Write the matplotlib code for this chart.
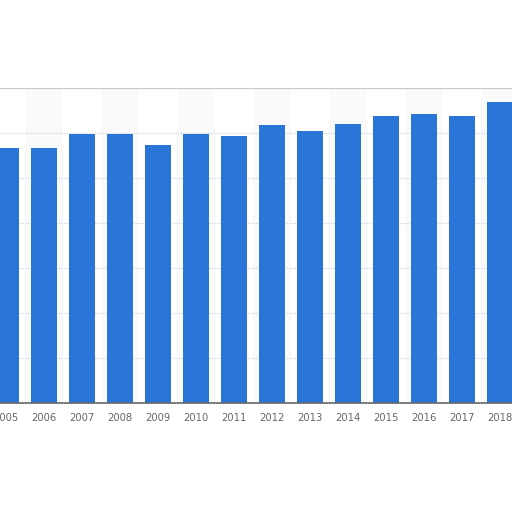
import matplotlib
matplotlib.use("Agg")
import matplotlib.pyplot as plt
import numpy as np

years = ['2005', '2006', '2007', '2008', '2009', '2010', '2011',
         '2012', '2013', '2014', '2015', '2016', '2017', '2018']
values = [5.67, 5.67, 5.98, 5.98, 5.73, 5.98, 5.93,
          6.18, 6.04, 6.20, 6.38, 6.42, 6.38, 6.69]

fig = plt.figure(figsize=(5.12, 5.12), dpi=100)
ax = fig.add_axes([0, 0.213, 1, 0.615])

x = np.arange(len(years))

# faint alternating column bands
for i in x:
    if i % 2 == 1:
        ax.axvspan(i - 0.5, i + 0.5, color='#fafafa', zorder=0, lw=0)

ax.bar(x, values, width=0.71, color='#2a76d8', zorder=3)

ax.set_xlim(-0.158, 13.316)
ax.set_ylim(0, 7)
ax.set_yticks(range(0, 8))
ax.yaxis.grid(True, linestyle=(0, (1, 1.5)), color='#cccccc', lw=0.8, zorder=1)
ax.axhline(7, color='#c8c8c8', lw=1.5, zorder=2)
ax.tick_params(axis='y', left=False, labelleft=False)

ax.set_xticks(x)
ax.set_xticklabels(years, fontsize=7.2, color='#666666')
ax.tick_params(axis='x', length=0, pad=7)

for s in ['top', 'left', 'right']:
    ax.spines[s].set_visible(False)
ax.spines['bottom'].set_color('#666666')
ax.spines['bottom'].set_linewidth(1.2)
ax.spines['bottom'].set_zorder(4)

fig.savefig('out.png', dpi=100)
